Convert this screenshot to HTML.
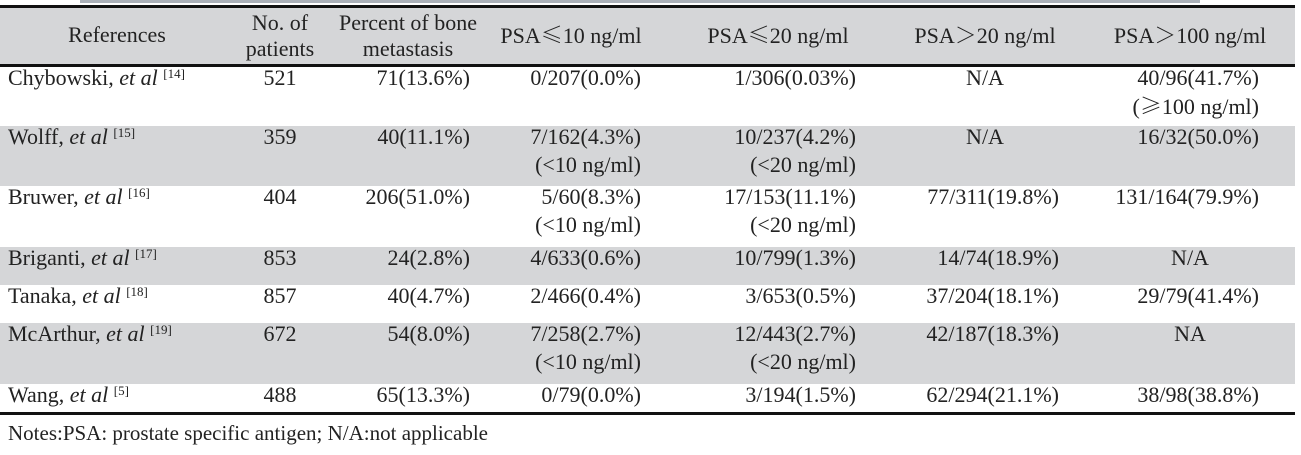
<!DOCTYPE html>
<html><head><meta charset="utf-8">
<style>
html,body{margin:0;padding:0;background:#fff;}
#root{position:relative;width:1301px;height:455px;overflow:hidden;font-family:"Liberation Serif",serif;font-size:22px;color:#222;}
.band{position:absolute;left:0;width:1295px;background:#d5d6d8;}
.rule{position:absolute;left:0;width:1295px;background:#111;height:3px;}
.t{position:absolute;white-space:nowrap;line-height:28px;}
.r{transform:translateX(-100%);text-align:right;}
.c{transform:translateX(-50%);text-align:center;}
.cjk{font-family:"Noto Serif CJK SC","Noto Sans CJK SC",serif;}
sup{font-size:13px;vertical-align:top;position:relative;top:-4px;}
</style></head>
<body>
<div id="root">
<div style="position:absolute;left:80px;top:0;width:1120px;height:3px;background:#aab0b8;"></div>
<div class="band" style="top:6px;height:60px;"></div>
<div class="rule" style="top:5px;"></div>
<div class="rule" style="top:64px;"></div>
<div class="rule" style="top:412px;"></div>
<div class="t" style="left:8px;top:422px;font-size:21px;line-height:22px;">Notes:PSA: prostate specific antigen; N/A:not applicable</div>
</div>
<script>
const root=document.getElementById('root');
const headers=[["References",117],["No. of<br>patients",280],["Percent of bone<br>metastasis",408],["PSA<span class='cjk'>≤</span>10 ng/ml",571],["PSA<span class='cjk'>≤</span>20 ng/ml",778],["PSA<span class='cjk'>＞</span>20 ng/ml",985],["PSA<span class='cjk'>＞</span>100 ng/ml",1190]];
const refs=["Chybowski, <i>et al</i> <sup>[14]</sup>","Wolff, <i>et al</i> <sup>[15]</sup>","Bruwer, <i>et al</i> <sup>[16]</sup>","Briganti, <i>et al</i> <sup>[17]</sup>","Tanaka, <i>et al</i> <sup>[18]</sup>","McArthur, <i>et al</i> <sup>[19]</sup>","Wang, <i>et al</i> <sup>[5]</sup>"];
const patients=["521","359","404","853","857","672","488"];
const boneMet=["71(13.6%)","40(11.1%)","206(51.0%)","24(2.8%)","40(4.7%)","54(8.0%)","65(13.3%)"];
const psa10=["0/207(0.0%)","7/162(4.3%)<br>(&lt;10 ng/ml)","5/60(8.3%)<br>(&lt;10 ng/ml)","4/633(0.6%)","2/466(0.4%)","7/258(2.7%)<br>(&lt;10 ng/ml)","0/79(0.0%)"];
const psa20=["1/306(0.03%)","10/237(4.2%)<br>(&lt;20 ng/ml)","17/153(11.1%)<br>(&lt;20 ng/ml)","10/799(1.3%)","3/653(0.5%)","12/443(2.7%)<br>(&lt;20 ng/ml)","3/194(1.5%)"];
const psaGt20=["N/A","N/A","77/311(19.8%)","14/74(18.9%)","37/204(18.1%)","42/187(18.3%)","62/294(21.1%)"];
const psaGt100=["40/96(41.7%)<br>(<span class='cjk'>≥</span>100 ng/ml)","16/32(50.0%)","131/164(79.9%)","N/A","29/79(41.4%)","NA","38/98(38.8%)"];
const rowTops=[67,126,186,247,285,323,384,412];
const shaded=[false,true,false,true,false,true,false];
function txt(html,x,y,cls,name){
  const d=document.createElement('div');
  d.className='t '+cls;
  d.style.left=x+'px';d.style.top=y+'px';
  d.innerHTML=html;
  
  
  root.appendChild(d);
}
headers.forEach((h)=>{
  const two=h[0].includes('<br>');
  const d=document.createElement('div');
  d.className='t c';
  d.style.left=h[1]+'px';d.style.top=(two?10:22)+'px';
  d.style.lineHeight='26px';
  d.innerHTML=h[0];
  
  
  root.appendChild(d);
});
for(let i=0;i<refs.length;i++){
  const top=rowTops[i];
  if(shaded[i]){
    const b=document.createElement('div');
    b.className='band';
    b.style.top=top+'px';b.style.height=(rowTops[i+1]-top)+'px';
    
    
    root.insertBefore(b,root.children[3]);
  }
  const y=top-3;
  txt(refs[i],8,y,'','reference-cell');
  txt(patients[i],280,y,'c','patients-cell');
  txt(boneMet[i],470,y,'r','bone-metastasis-cell');
  txt(psa10[i],641,y,'r','psa-le-10-cell');
  txt(psa20[i],856,y,'r','psa-le-20-cell');
  if(psaGt20[i].startsWith('N')) txt(psaGt20[i],985,y,'c','psa-gt-20-cell');
  else txt(psaGt20[i],1059,y,'r','psa-gt-20-cell');
  if(psaGt100[i].startsWith('N')) txt(psaGt100[i],1190,y,'c','psa-gt-100-cell');
  else txt(psaGt100[i],1259,y,'r','psa-gt-100-cell');
}
</script>
</body></html>
